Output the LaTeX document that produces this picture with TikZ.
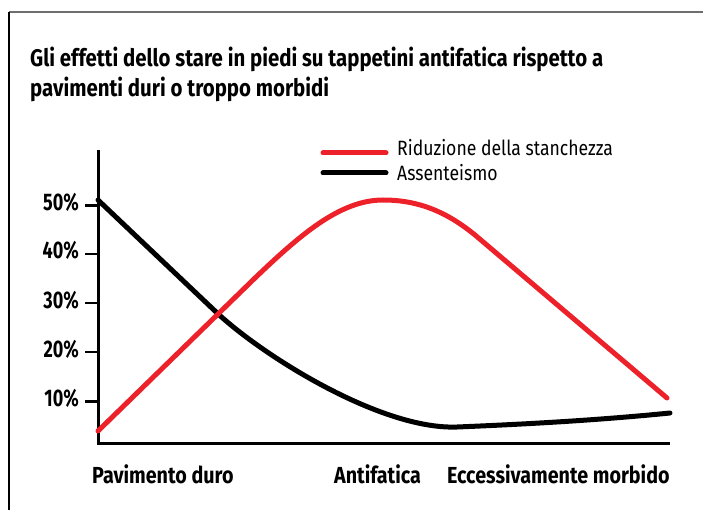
\documentclass[tikz,border=0pt]{standalone}
\usepackage{fontspec}
\setmainfont{Fira Sans}[FakeStretch=0.85]
\definecolor{chartred}{HTML}{ED2129}
\definecolor{framegray}{HTML}{6E6E6E}
\begin{document}
\begin{tikzpicture}[x=1pt,y=-1pt,
  curve/.style={line width=5pt,line cap=round,line join=round},
  axisline/.style={line width=3pt},
  tickline/.style={line width=2.5pt},
  titlelbl/.style={font=\fontsize{24}{24}\selectfont\bfseries,inner sep=0pt,anchor=base west},
  boldlbl/.style={font=\fontsize{23.2}{23}\selectfont\bfseries,inner sep=0pt,anchor=base west},
  pctlbl/.style={font=\fontsize{24}{24}\selectfont\bfseries\addfontfeatures{FakeStretch=0.75},inner sep=0pt,anchor=base east},
  leglbl/.style={font=\fontsize{20.7}{20}\selectfont,inner sep=0pt,anchor=base west}]
\useasboundingbox (0,0) rectangle (703,510);
% frame
\draw[framegray,line width=1.5pt] (9,12) -- (703,12);
\draw[black,line width=1.3pt] (9,12) -- (9,510);
% title
\node[titlelbl] (t1) at (30,67) {Gli effetti dello stare in piedi su tappetini antifatica rispetto a};
\node[titlelbl] (t2) at (30,97) {pavimenti duri o troppo morbidi};
% axes
\coordinate (ytop) at (98.5,150);
\coordinate (orig) at (98.5,443);
\coordinate (xend) at (670,443);
\draw[axisline] (ytop) -- (orig) -- (xend);
% ticks and labels
\foreach \v/\yy in {50/205.7,40/254,30/303,20/352,10/401.7}{
  \coordinate (tk\v) at (85,\yy);
  \draw[tickline] (tk\v) -- (98.5,\yy);
  \node[pctlbl] (p\v) at (79,\yy+5) {\v\%};
}
% x labels
\node[boldlbl] (xa) at (92,483) {Pavimento duro};
\node[boldlbl] (xb) at (334,483) {Antifatica};
\node[boldlbl] (xc) at (447,483) {Eccessivamente morbido};
% legend
\coordinate (lr1) at (323,153);
\coordinate (lr2) at (386,153);
\coordinate (lb1) at (323,173);
\coordinate (lb2) at (386,173);
\draw[curve,chartred] (lr1) -- (lr2);
\draw[curve,black] (lb1) -- (lb2);
\node[leglbl] (lg1) at (397,156) {Riduzione della stanchezza};
\node[leglbl] (lg2) at (397,181) {Assenteismo};
% curves
\draw[curve,black] (98,200) -- (215,311) .. controls (260,354) and (380,430) .. (457,427)
  .. controls (530,424) and (600,420) .. (670,413);
\draw[curve,chartred] (98,431) -- (255,278) .. controls (300,235) and (340,200) .. (383,200)
  .. controls (420,200) and (448,213) .. (475,235) -- (667,398);
\end{tikzpicture}
\end{document}
